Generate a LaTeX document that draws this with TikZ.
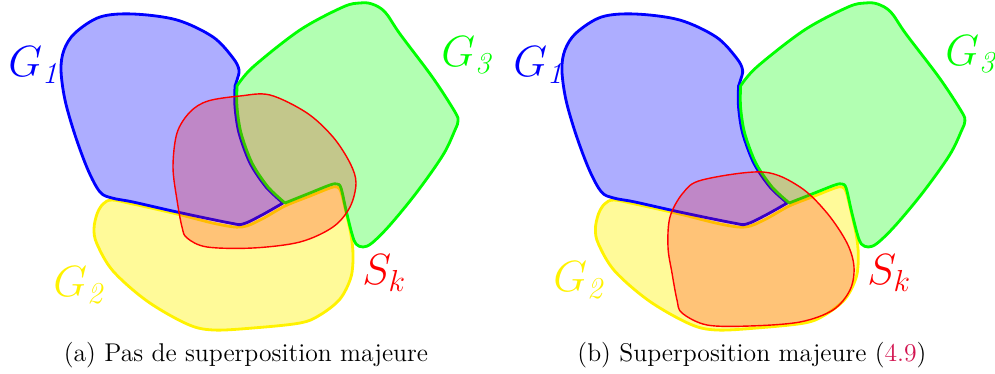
\documentclass[tikz,border=0pt]{standalone}
\usepackage{xcolor}
\usepackage{tikz}

\definecolor{linkred}{RGB}{210,20,80}

% the three groups, drawn in pixel units
\newcommand{\drawgroups}{%
  % G2
  \filldraw[grp, draw=yellow, fill=yellow, fill opacity=0.4]
    plot[smooth cycle, tension=0.55] coordinates {(112,200) (133,204) (177,214) (217,224) (242,227) (262,219) (285,206) (310,196) (330,188) (337,187) (341,192) (346,212) (351,235) (353,255) (351,277) (340,299) (320,315) (300,323) (253,328) (213,330) (187,324) (147,301) (113,271) (97,244) (94,229) (97,214) (103,204)};
  % G1
  \filldraw[grp, draw=blue, fill=blue, fill opacity=0.32]
    plot[smooth, tension=0.5] coordinates {(235,86) (235,107) (239,133) (250,163) (266,187) (283,203)}
    -- plot[smooth, tension=0.55] coordinates {(283,203) (262,215) (243,224) (230,223) (177,212) (133,202) (112,198) (100,192) (88,170) (75,135) (65,100) (61,70) (64,50) (75,33) (100,17) (133,14) (177,20) (213,37) (233,58) (239,70) (237,80) (235,86)}
    -- cycle;
  % G3
  \filldraw[grp, draw=green, fill=green, fill opacity=0.3]
    plot[smooth, tension=0.5] coordinates {(237,86) (237,107) (241,133) (252,163) (268,187) (285,203)}
    -- plot[smooth, tension=0.55] coordinates {(285,203) (310,193) (330,185) (337,184) (341,188) (346,210) (352,234) (356,244) (363,247) (372,243) (390,225) (417,192) (443,155) (455,130) (458,121) (455,112) (433,78) (400,34) (385,12) (372,4) (360,3) (343,7) (300,30) (253,67) (237,86)}
    -- cycle;
}

\begin{document}
\begin{tikzpicture}[
    x=0.02cm, y=-0.02cm,
    grp/.style={line width=1.6pt, line join=round},
    sk_blob/.style={draw=red, line width=0.8pt, fill=red, fill opacity=0.22, line join=round},
    setlabel/.style={inner sep=0, anchor=base west, font=\fontsize{23}{28}\selectfont},
    caption/.style={inner sep=0, anchor=base, font=\fontsize{14.6}{17}\selectfont}
]
\useasboundingbox (0,0) rectangle (995,374);

% (a) no major overlap
\drawgroups
\filldraw[sk_blob] plot[smooth cycle, tension=0.55] coordinates {(208,101) (240,96) (270,95) (307,113) (333,137) (350,163) (356,183) (350,207) (333,227) (300,242) (253,248) (207,247) (187,238) (182,227) (177,200) (173,167) (177,133) (190,112)};

\node[setlabel, text=blue] (g1a) at (8,77) {$G_{\mathit{1}}$};
\node[setlabel, text=yellow] (g2a) at (53,297) {$G_{\mathit{2}}$};
\node[setlabel, text=green] (g3a) at (441,67) {$G_{\mathit{3}}$};
\node[setlabel, text=red] (ska) at (362,285) {$S_k$};
\node[caption] (capa) at (246,362) {(a) Pas de superposition majeure};

% (b) major overlap
\begin{scope}[shift={(500,0)}, xscale=1.015]
\drawgroups
\end{scope}
\filldraw[sk_blob] plot[smooth cycle, tension=0.55] coordinates {(702,180) (763,172) (800,187) (827,213) (847,243) (854,267) (850,290) (833,310) (800,322) (750,326) (707,325) (682,313) (677,300) (672,273) (668,247) (670,217) (683,193)};

\node[setlabel, text=blue] (g1b) at (513,77) {$G_{\mathit{1}}$};
\node[setlabel, text=yellow] (g2b) at (553,292) {$G_{\mathit{2}}$};
\node[setlabel, text=green] (g3b) at (945,66) {$G_{\mathit{3}}$};
\node[setlabel, text=red] (skb) at (867,285) {$S_k$};
\node[caption] (capb) at (752,362) {(b) Superposition majeure (\textcolor{linkred}{4.9})};

\end{tikzpicture}
\end{document}
